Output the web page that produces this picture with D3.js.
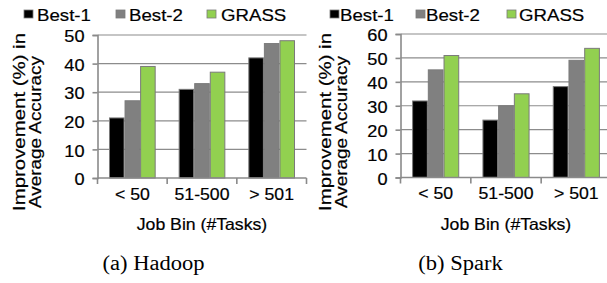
<!DOCTYPE html>
<html>
<head>
<meta charset="utf-8">
<script src="https://cdn.jsdelivr.net/npm/d3@7"></script>
<style>
  html, body { margin: 0; padding: 0; background: #fff; }
  svg { display: block; }
</style>
</head>
<body>
<script>
// ---------------- data ----------------
const categories = ["< 50", "51-500", "> 501"];
const seriesNames = ["Best-1", "Best-2", "GRASS"];
const hadoopBest1 = [21, 31, 42];
const hadoopBest2 = [27, 33, 47];
const hadoopGrass = [39, 37, 48];
const sparkBest1 = [32, 24, 38];
const sparkBest2 = [45, 30, 49];
const sparkGrass = [51, 35, 54];
const hadoopTicks = [0, 10, 20, 30, 40, 50];
const sparkTicks = [0, 10, 20, 30, 40, 50, 60];
const xTitle = "Job Bin (#Tasks)";
const yTitleLines = ["Improvement (%) in", "Average Accuracy"];
const captions = ["(a) Hadoop", "(b) Spark"];

// ---------------- styles ----------------
const colors = ["#000000", "#808080", "#92d050"];
const outline = "#7a7a7a";
const axisColor = "#8a8a8a";
const gridColor = "#8c8c8c";
const SANS = "'Liberation Sans', Arial, sans-serif";
const SERIF = "'Liberation Serif', 'Times New Roman', serif";
const FS = 16.5;

const W = 607, H = 283;
const svg = d3.select("body").append("svg").attr("width", W).attr("height", H);

function stretch(sel, k) {
  sel.each(function () {
    const L = this.getComputedTextLength();
    d3.select(this).attr("textLength", L * k).attr("lengthAdjust", "spacingAndGlyphs");
  });
}
function sans(sel, size) {
  sel.style("font-family", SANS).style("font-size", size + "px")
    .style("fill", "#000").style("stroke", "#000").style("stroke-width", "0.2px");
}

const panels = [
  { left: 97.5, right: 306.5, top: 35, bottom: 178, ticks: hadoopTicks,
    values: [hadoopBest1, hadoopBest2, hadoopGrass], caption: captions[0],
    legendSq: [24, 116, 207], legendTx: [37, 129, 221], yt: [25, 41], captionX: 153.5 },
  { left: 400.5, right: 611.5, top: 34, bottom: 177.5, ticks: sparkTicks,
    values: [sparkBest1, sparkBest2, sparkGrass], caption: captions[1],
    legendSq: [330, 416, 507], legendTx: [340, 426, 519], yt: [331, 347], captionX: 460.5 }
];

panels.forEach(p => {
  const g = svg.append("g");
  const x0 = d3.scaleBand().domain(categories).range([p.left, p.right]).padding(0);
  const bw = x0.bandwidth();
  const x1 = d3.scaleBand().domain(seriesNames).range([bw * 0.165, bw * 0.835]).padding(0);
  const yMax = d3.max(p.ticks);
  const y = d3.scaleLinear().domain([0, yMax]).range([p.bottom, p.top]);

  // gridlines
  g.append("g").selectAll("line").data(p.ticks.filter(t => t > 0)).join("line")
    .attr("x1", p.left).attr("x2", p.right)
    .attr("y1", d => y(d)).attr("y2", d => y(d))
    .attr("stroke", gridColor).attr("stroke-width", 1.2);

  // bars
  const rows = categories.map((c, i) => ({ cat: c, vals: seriesNames.map((s, j) => ({ s, j, v: p.values[j][i] })) }));
  g.append("g").selectAll("g").data(rows).join("g")
    .attr("transform", d => `translate(${x0(d.cat)},0)`)
    .selectAll("rect").data(d => d.vals).join("rect")
    .attr("x", d => x1(d.s) + 0.5)
    .attr("width", x1.bandwidth() - 1)
    .attr("y", d => y(d.v))
    .attr("height", d => y(0) - y(d.v))
    .attr("fill", d => colors[d.j])
    .attr("stroke", outline).attr("stroke-width", 1);

  // y axis
  const ya = g.append("g").attr("transform", `translate(${p.left},0)`)
    .call(d3.axisLeft(y).tickValues(p.ticks).tickSize(5).tickPadding(8).tickFormat(d3.format("d")));
  ya.select(".domain").attr("stroke", axisColor).attr("stroke-width", 1.6);
  ya.selectAll(".tick line").attr("stroke", axisColor).attr("stroke-width", 1.6);
  ya.selectAll(".tick text").call(sans, FS).attr("dy", "0.4em").call(stretch, 1.1);

  // x axis
  const xa = g.append("g").attr("transform", `translate(0,${p.bottom})`)
    .call(d3.axisBottom(x0).tickSize(0).tickPadding(17));
  xa.select(".domain").remove();
  xa.append("line").attr("x1", p.left).attr("x2", p.right).attr("stroke", axisColor).attr("stroke-width", 1.6);
  const bounds = categories.map(c => x0(c)).concat([p.right]);
  xa.selectAll(".bt").data(bounds).join("line").attr("class", "bt")
    .attr("x1", d => d).attr("x2", d => d).attr("y1", 0).attr("y2", 6)
    .attr("stroke", axisColor).attr("stroke-width", 1.6);
  xa.selectAll(".tick text").call(sans, FS).attr("dy", "0.3em").call(stretch, 1.07);

  // x title
  g.append("text").attr("x", (p.left + p.right) / 2).attr("y", 230)
    .attr("text-anchor", "middle").call(sans, FS).text(xTitle).call(stretch, 1.07);

  // y title
  const yMid = [122, 132];
  const yLen = [178, 152];
  yTitleLines.forEach((t, i) => {
    g.append("text").attr("transform", `translate(${p.yt[i]},${yMid[i]}) rotate(-90)`)
      .attr("text-anchor", "middle").call(sans, 16.5).text(t)
      .attr("textLength", yLen[i]).attr("lengthAdjust", "spacingAndGlyphs");
  });

  // legend
  seriesNames.forEach((s, j) => {
    g.append("rect").attr("x", p.legendSq[j]).attr("y", 10).attr("width", 9).attr("height", 8)
      .attr("fill", colors[j]).attr("stroke", outline).attr("stroke-width", 0.8);
    g.append("text").attr("x", p.legendTx[j]).attr("y", 20.5).call(sans, FS).text(s).call(stretch, 1.13);
  });

  // caption
  g.append("text").attr("x", p.captionX).attr("y", 270).attr("text-anchor", "middle")
    .style("font-family", SERIF).style("font-size", "20.5px").style("fill", "#000")
    .text(p.caption).call(stretch, 1.1);
});
</script>
</body>
</html>
